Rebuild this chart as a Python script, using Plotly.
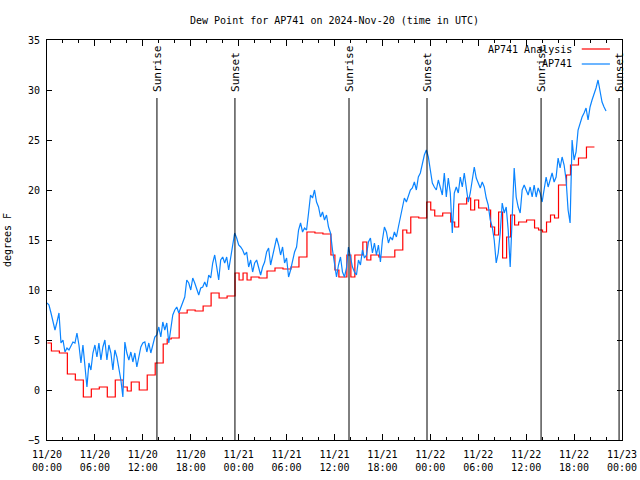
import pandas as pd
import plotly.graph_objects as go

# ---------------- data ----------------
title_text = "Dew Point for AP741 on 2024-Nov-20 (time in UTC)"
y_label = "degrees F"
obs_name = "AP741"
ana_name = "AP741 Analysis"

# observations, every 15 minutes from 2024-11-20 00:00 UTC
obs_start = "2024-11-20 00:00"
obs_step = "15min"
obs_values = [
    8.7, 8.5, 7.7, 6.7, 6.0, 6.8, 7.7, 4.7, 5.0, 3.8, 4.2, 4.0, 4.5, 4.8, 4.7, 5.7,
    4.5, 2.7, 4.5, 2.0, 0.3, 2.7, 2.0, 3.7, 4.5, 3.3, 4.7, 3.0, 4.3, 5.0, 3.0, 4.5,
    3.7, 2.0, 4.0, 3.3, 2.3, 1.0, -0.7, 4.8, 3.7, 3.0, 3.8, 2.8, 3.7, 2.3, 3.3, 4.3, 4.7,
    4.8, 3.8, 4.7, 3.7, 4.5, 5.3, 5.5, 6.3, 5.3, 6.8, 6.0, 6.7, 4.7, 6.3, 7.5, 8.0,
    8.3, 7.7, 8.3, 8.8, 9.3, 11.0, 10.7, 10.0, 11.2, 10.7, 10.2, 9.5, 10.2, 10.3, 10.8, 10.3,
    11.5, 11.2, 12.7, 13.5, 12.3, 11.0, 13.0, 13.3, 12.7, 13.3, 12.0, 13.3, 14.2, 15.7, 15.2, 14.5,
    14.3, 14.0, 13.5, 13.8, 12.3, 13.0, 11.8, 12.7, 13.0, 12.2, 11.5, 12.3, 12.8, 13.8, 14.2, 12.5,
    13.3, 14.2, 15.2, 14.5, 13.5, 14.3, 12.7, 13.2, 11.3, 12.0, 13.0, 13.8, 14.3, 16.0, 16.7, 15.8,
    16.2, 16.0, 17.7, 19.5, 19.2, 20.0, 18.8, 18.3, 17.3, 17.8, 17.0, 17.5, 16.3, 15.7, 14.0, 12.7,
    11.3, 12.5, 13.3, 11.8, 11.3, 12.2, 14.3, 13.3, 12.3, 11.8, 11.5, 13.0, 12.5, 14.0, 13.2, 13.5,
    14.8, 15.2, 13.7, 14.7, 13.5, 14.5, 12.8, 15.0, 16.3, 15.8, 14.7, 15.3, 15.0, 15.8, 15.3, 16.3,
    17.3, 18.3, 19.2, 18.8, 19.3, 20.0, 20.2, 20.8, 20.0, 21.3, 21.7, 22.7, 23.5, 24.0, 23.3, 22.0,
    20.7, 20.3, 20.0, 21.0, 20.2, 19.5, 21.7, 19.3, 21.2, 19.7, 15.7, 19.7, 20.3, 19.7, 21.3, 20.3,
    21.7, 20.0, 18.8, 19.7, 21.2, 22.3, 21.2, 20.7, 20.2, 20.8, 20.3, 19.2, 18.5, 17.0, 16.3, 15.0,
    12.7, 13.7, 15.7, 18.7, 17.7, 18.3, 16.0, 12.3, 17.0, 22.2, 19.3, 18.3, 17.7, 20.0, 20.5, 20.0,
    19.5, 20.3, 19.3, 20.5, 19.3, 20.2, 19.7, 18.8, 20.0, 21.3, 20.3, 21.0, 21.7, 20.8, 21.3, 23.2,
    22.2, 23.3, 22.5, 21.0, 18.0, 16.7, 25.0, 23.0, 23.8, 26.0, 26.7, 27.3, 27.7, 28.2, 27.0, 28.3,
    29.0, 29.5, 30.2, 31.0, 30.0, 28.8, 28.3, 27.9,
]

# analysis (stepped), every 30 minutes from 2024-11-20 00:03 UTC
ana_start = "2024-11-20 00:03"
ana_step = "30min"
ana_values = [
    4.7, 3.9, 3.9, 3.7, 3.7, 1.6, 1.6, 1.0, 1.0, -0.7, -0.7, 0.1, 0.1, 0.3, 0.3, -0.7,
    -0.7, 1.0, 1.0, 0.3, -0.1, 0.8, 0.8, 0.0, 0.0, 1.5, 1.5, 2.7, 2.7, 4.6, 5.1, 5.2,
    5.2, 7.7, 7.7, 8.0, 8.0, 7.9, 7.9, 8.4, 8.4, 9.7, 9.7, 9.2, 9.2, 9.4, 9.4, 11.7,
    11.0, 11.7, 11.0, 11.3, 11.3, 11.2, 11.2, 11.9, 11.9, 12.2, 12.2, 12.1, 12.1, 12.3, 12.3, 13.3,
    13.3, 15.8, 15.8, 15.7, 15.7, 15.6, 15.6, 13.5, 12.0, 11.3, 11.3, 13.5, 11.3, 13.5, 13.5, 14.8,
    13.0, 13.5, 13.5, 13.3, 13.3, 13.3, 13.3, 14.0, 14.0, 16.0, 15.7, 17.3, 17.3, 17.2, 17.2, 18.8,
    18.0, 17.4, 17.4, 17.7, 17.7, 16.8, 16.3, 18.6, 18.6, 19.2, 18.0, 19.0, 18.2, 18.2, 18.0, 16.3,
    15.5, 17.8, 13.2, 15.3, 17.5, 16.5, 16.8, 16.8, 17.0, 17.0, 16.2, 16.0, 15.8, 16.8, 17.5, 17.2,
    20.5, 20.5, 21.5, 22.5, 22.5, 23.2, 23.2, 24.3, 24.3, 24.3,
]

sunrise_times = ["2024-11-20 13:46", "2024-11-21 13:49", "2024-11-22 13:52"]
sunset_times = ["2024-11-20 23:32", "2024-11-21 23:35", "2024-11-22 23:38"]

x_range = ["2024-11-20 00:00", "2024-11-23 00:00"]
y_range = [-5, 35]

# ---------------- figure ----------------
FONT = "DejaVu Sans Mono"
RED = "#ff0000"
BLUE = "#0a84ff"

obs_times = pd.date_range(obs_start, periods=len(obs_values), freq=obs_step)
ana_times = pd.date_range(ana_start, periods=len(ana_values), freq=ana_step)

fig = go.Figure()
fig.add_trace(go.Scatter(x=ana_times, y=ana_values, mode="lines", line_shape="hv",
                         line=dict(color=RED, width=1.2), name=ana_name, showlegend=False))
fig.add_trace(go.Scatter(x=obs_times, y=obs_values, mode="lines",
                         line=dict(color=BLUE, width=1.2), name=obs_name, showlegend=False))

shapes = []
annotations = []
for label, times in (("Sunrise", sunrise_times), ("Sunset", sunset_times)):
    for t in times:
        shapes.append(dict(type="line", xref="x", yref="y", x0=t, x1=t, y0=y_range[0], y1=29.2,
                           line=dict(color="black", width=1)))
        annotations.append(dict(x=t, y=29.6, xref="x", yref="y", text=label, showarrow=False,
                                textangle=-90, xanchor="center", yanchor="bottom",
                                font=dict(family=FONT, size=11, color="black")))

# legend (text left of sample, gnuplot style)
annotations.append(dict(x=0.9165, y=0.976, xref="paper", yref="paper", text=ana_name,
                        showarrow=False, xanchor="right", yanchor="middle",
                        font=dict(family=FONT, size=10, color="black")))
annotations.append(dict(x=0.9165, y=0.9415, xref="paper", yref="paper", text=obs_name,
                        showarrow=False, xanchor="right", yanchor="middle",
                        font=dict(family=FONT, size=10, color="black")))
shapes.append(dict(type="line", xref="paper", yref="paper", x0=0.930, x1=0.979, y0=0.9775, y1=0.9775,
                   line=dict(color=RED, width=1.2)))
shapes.append(dict(type="line", xref="paper", yref="paper", x0=0.930, x1=0.979, y0=0.94, y1=0.94,
                   line=dict(color=BLUE, width=1.2)))

fig.update_layout(
    width=640, height=480,
    margin=dict(l=47, r=18, t=40, b=40, autoexpand=False),
    paper_bgcolor="white", plot_bgcolor="white",
    font=dict(family=FONT, size=10, color="black"),
    title=dict(text=title_text, x=0.5, xref="paper", xanchor="center",
               y=1 - 20 / 480, yref="container", yanchor="middle",
               font=dict(family=FONT, size=10, color="black")),
    shapes=shapes, annotations=annotations,
    showlegend=False,
)
fig.update_xaxes(
    range=x_range, type="date", automargin=False,
    dtick=6 * 3600 * 1000, tick0="2024-11-20 00:00", tickformat="%m/%d<br>%H:%M",
    ticks="inside", ticklen=6, tickcolor="black", ticklabelstandoff=5,
    minor=dict(dtick=2 * 3600 * 1000, ticks="inside", ticklen=3, tickcolor="black"),
    showline=True, linecolor="black", linewidth=1, mirror="ticks",
    showgrid=False, zeroline=False,
    tickfont=dict(family=FONT, size=10, color="black"),
)
fig.update_yaxes(
    range=y_range, dtick=5, tick0=0, automargin=False,
    ticks="inside", ticklen=5, tickcolor="black", ticklabelstandoff=4,
    showline=True, linecolor="black", linewidth=1, mirror="ticks",
    showgrid=False, zeroline=False,
    title=dict(text=y_label, font=dict(family=FONT, size=10, color="black"), standoff=14),
    tickfont=dict(family=FONT, size=10, color="black"),
)

fig.write_html("out.html", config={"displayModeBar": False, "staticPlot": True},
               post_script="document.body.style.margin='0';document.body.style.overflow='hidden';")
